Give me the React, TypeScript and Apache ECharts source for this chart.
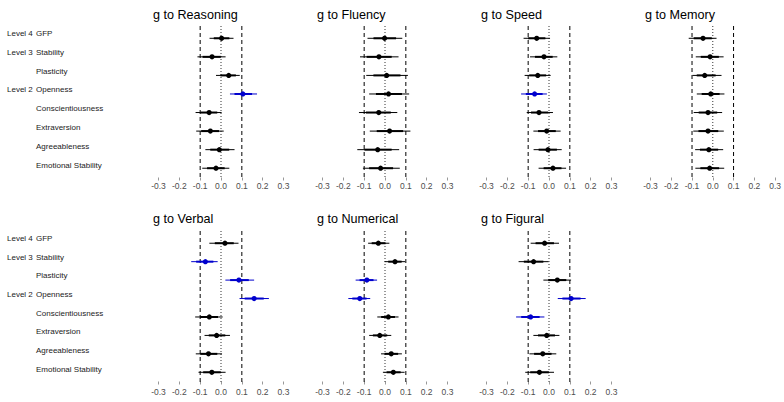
import React, { useEffect, useRef } from "react";
import * as echarts from "echarts";

const rowNames = ["GFP", "Stability", "Plasticity", "Openness", "Conscientiousness", "Extraversion", "Agreeableness", "Emotional Stability"];
const levelNames = ["Level 4", "Level 3", "", "Level 2", "", "", "", ""];
const panelTitles = ["g to Reasoning", "g to Fluency", "g to Speed", "g to Memory", "g to Verbal", "g to Numerical", "g to Figural"];
const xTicks = [-0.3, -0.2, -0.1, 0.0, 0.1, 0.2, 0.3];
const refLines = [-0.1, 0, 0.1];

// [estimate, lower, upper] per row
const reasoning = [[0.003, -0.055, 0.06], [-0.043, -0.113, 0.022], [0.037, -0.024, 0.09], [0.105, 0.043, 0.173], [-0.057, -0.122, 0.003], [-0.051, -0.119, 0.013], [-0.008, -0.075, 0.065], [-0.024, -0.09, 0.04]];
const fluency = [[-0.002, -0.084, 0.083], [-0.029, -0.12, 0.065], [0.008, -0.09, 0.11], [0.017, -0.076, 0.116], [-0.03, -0.125, 0.059], [0.022, -0.073, 0.122], [-0.035, -0.133, 0.068], [-0.021, -0.106, 0.071]];
const speed = [[-0.059, -0.122, 0.005], [-0.024, -0.091, 0.04], [-0.054, -0.117, 0.008], [-0.069, -0.134, -0.01], [-0.048, -0.107, 0.019], [-0.011, -0.075, 0.056], [-0.005, -0.074, 0.061], [0.019, -0.05, 0.082]];
const memory = [[-0.047, -0.116, 0.018], [-0.013, -0.082, 0.052], [-0.039, -0.098, 0.042], [-0.01, -0.077, 0.056], [-0.023, -0.092, 0.045], [-0.023, -0.094, 0.053], [-0.019, -0.085, 0.05], [-0.015, -0.084, 0.055]];
const verbal = [[0.019, -0.056, 0.084], [-0.075, -0.143, -0.016], [0.086, 0.021, 0.159], [0.159, 0.089, 0.23], [-0.056, -0.124, 0.008], [-0.021, -0.079, 0.043], [-0.06, -0.121, 0.005], [-0.044, -0.108, 0.022]];
const numerical = [[-0.032, -0.081, 0.021], [0.048, -0.002, 0.097], [-0.087, -0.141, -0.038], [-0.121, -0.176, -0.071], [0.016, -0.037, 0.065], [-0.025, -0.076, 0.03], [0.03, -0.019, 0.081], [0.04, -0.01, 0.094]];
const figural = [[-0.021, -0.088, 0.048], [-0.074, -0.146, -0.002], [0.04, -0.027, 0.106], [0.106, 0.042, 0.176], [-0.088, -0.158, -0.022], [-0.011, -0.075, 0.05], [-0.03, -0.094, 0.035], [-0.046, -0.114, 0.024]];

// rows highlighted in blue, per panel
const highlighted = [[3], [], [3], [], [1, 2, 3], [2, 3], [3, 4]];

const panelData = [reasoning, fluency, speed, memory, verbal, numerical, figural];

const FONT = "Liberation Sans, Arial, sans-serif";
const BLUE = "#0000CD";

export default function App() {
  const ref = useRef<HTMLDivElement>(null);
  useEffect(() => {
    if (!ref.current) return;
    const chart = echarts.init(ref.current, null, { renderer: "svg" });
    const lefts = [158.5, 322.5, 486.5, 650.5];
    const W = 125;
    const rowTop = [{ top: 29, height: 148.5, margin: 4 }, { top: 234, height: 147.5, margin: 6 }];
    const labelGrid = [{ top: 24, height: 150.5 }, { top: 229, height: 149.7 }];

    const grids: any[] = [];
    const xAxes: any[] = [];
    const yAxes: any[] = [];
    const series: any[] = [];
    const titles: any[] = [];

    panelData.forEach((pd, i) => {
      const r = i < 4 ? 0 : 1;
      const c = i < 4 ? i : i - 4;
      grids.push({ left: lefts[c], width: W, top: rowTop[r].top, height: rowTop[r].height });
      xAxes.push({
        gridIndex: i,
        type: "value",
        min: xTicks[0],
        max: xTicks[xTicks.length - 1],
        interval: 0.1,
        axisLine: { show: false },
        splitLine: { show: false },
        axisTick: { show: true, length: 3, lineStyle: { color: "#999", width: 1 } },
        axisLabel: {
          fontSize: 8.5,
          color: "#4d4d4d",
          margin: rowTop[r].margin,
          fontFamily: FONT,
          formatter: (v: number) => (Math.abs(v) < 1e-9 ? "0.0" : v.toFixed(1)),
        },
      });
      yAxes.push({
        gridIndex: i,
        type: "category",
        inverse: true,
        data: rowNames,
        axisLine: { show: false },
        axisTick: { show: false },
        axisLabel: { show: false },
        splitLine: { show: false },
      });
      titles.push({
        text: panelTitles[i],
        left: lefts[c] - 5.5,
        top: r === 0 ? 8 : 212,
        padding: 0,
        textStyle: { fontSize: 12.6, fontWeight: "normal", color: "#000", fontFamily: FONT },
      });
      series.push({
        type: "custom",
        xAxisIndex: i,
        yAxisIndex: i,
        data: refLines.map((v) => [v, 0]),
        renderItem: (params: any, api: any) => {
          const x = api.value(0);
          const p = api.coord([x, 0]);
          const cs = params.coordSys;
          const isZero = Math.abs(x) < 1e-9;
          return {
            type: "line",
            shape: { x1: p[0], y1: cs.y - 3, x2: p[0], y2: cs.y + cs.height + 1 },
            style: isZero
              ? { stroke: "#333", lineWidth: 1, lineDash: [1, 2] }
              : { stroke: "#000", lineWidth: 1, lineDash: [4, 3] },
            silent: true,
          };
        },
        silent: true,
        z: 1,
      });
      series.push({
        type: "custom",
        xAxisIndex: i,
        yAxisIndex: i,
        encode: { x: [0, 2, 3], y: 1 },
        data: pd.map((d, k) => [d[0], k, d[1], d[2], highlighted[i].includes(k) ? 1 : 0]),
        renderItem: (params: any, api: any) => {
          const est = api.value(0);
          const row = api.value(1);
          const lo = api.value(2);
          const hi = api.value(3);
          const sig = api.value(4);
          const color = sig ? BLUE : "#000";
          const p = api.coord([est, row]);
          const a = api.coord([lo, row]);
          const b = api.coord([hi, row]);
          const ia = api.coord([est - 0.65 * (est - lo), row]);
          const ib = api.coord([est + 0.65 * (hi - est), row]);
          return {
            type: "group",
            children: [
              { type: "line", shape: { x1: a[0], y1: p[1], x2: b[0], y2: p[1] }, style: { stroke: color, lineWidth: 1 } },
              { type: "line", shape: { x1: ia[0], y1: p[1], x2: ib[0], y2: p[1] }, style: { stroke: color, lineWidth: 2 } },
              { type: "circle", shape: { cx: p[0], cy: p[1], r: 2.6 }, style: { fill: color } },
            ],
          };
        },
        silent: true,
        z: 2,
      });
    });

    // label grids (row names) for each row of panels
    [0, 1].forEach((r) => {
      const gi = grids.length;
      grids.push({ left: lefts[0], width: 1, top: labelGrid[r].top, height: labelGrid[r].height });
      xAxes.push({ gridIndex: gi, type: "value", show: false, min: 0, max: 1 });
      yAxes.push({
        gridIndex: gi,
        type: "category",
        inverse: true,
        data: rowNames,
        axisLine: { show: false },
        axisTick: { show: false },
        splitLine: { show: false },
        axisLabel: {
          show: true,
          align: "left",
          margin: lefts[0] - 7,
          fontSize: 8,
          color: "#1a1a1a",
          fontFamily: FONT,
          formatter: (v: string, idx: number) => `{lv|${levelNames[idx]}}{nm|${v}}`,
          rich: {
            lv: { width: 29, fontSize: 8, color: "#1a1a1a", fontFamily: FONT },
            nm: { fontSize: 8, color: "#1a1a1a", fontFamily: FONT },
          },
        },
      });
    });

    chart.setOption({
      animation: false,
      backgroundColor: "#fff",
      title: titles,
      grid: grids,
      xAxis: xAxes,
      yAxis: yAxes,
      series,
    });
    return () => chart.dispose();
  }, []);
  return <div ref={ref} style={{ position: "fixed", left: 0, top: 0, width: 784, height: 402 }} />;
}
